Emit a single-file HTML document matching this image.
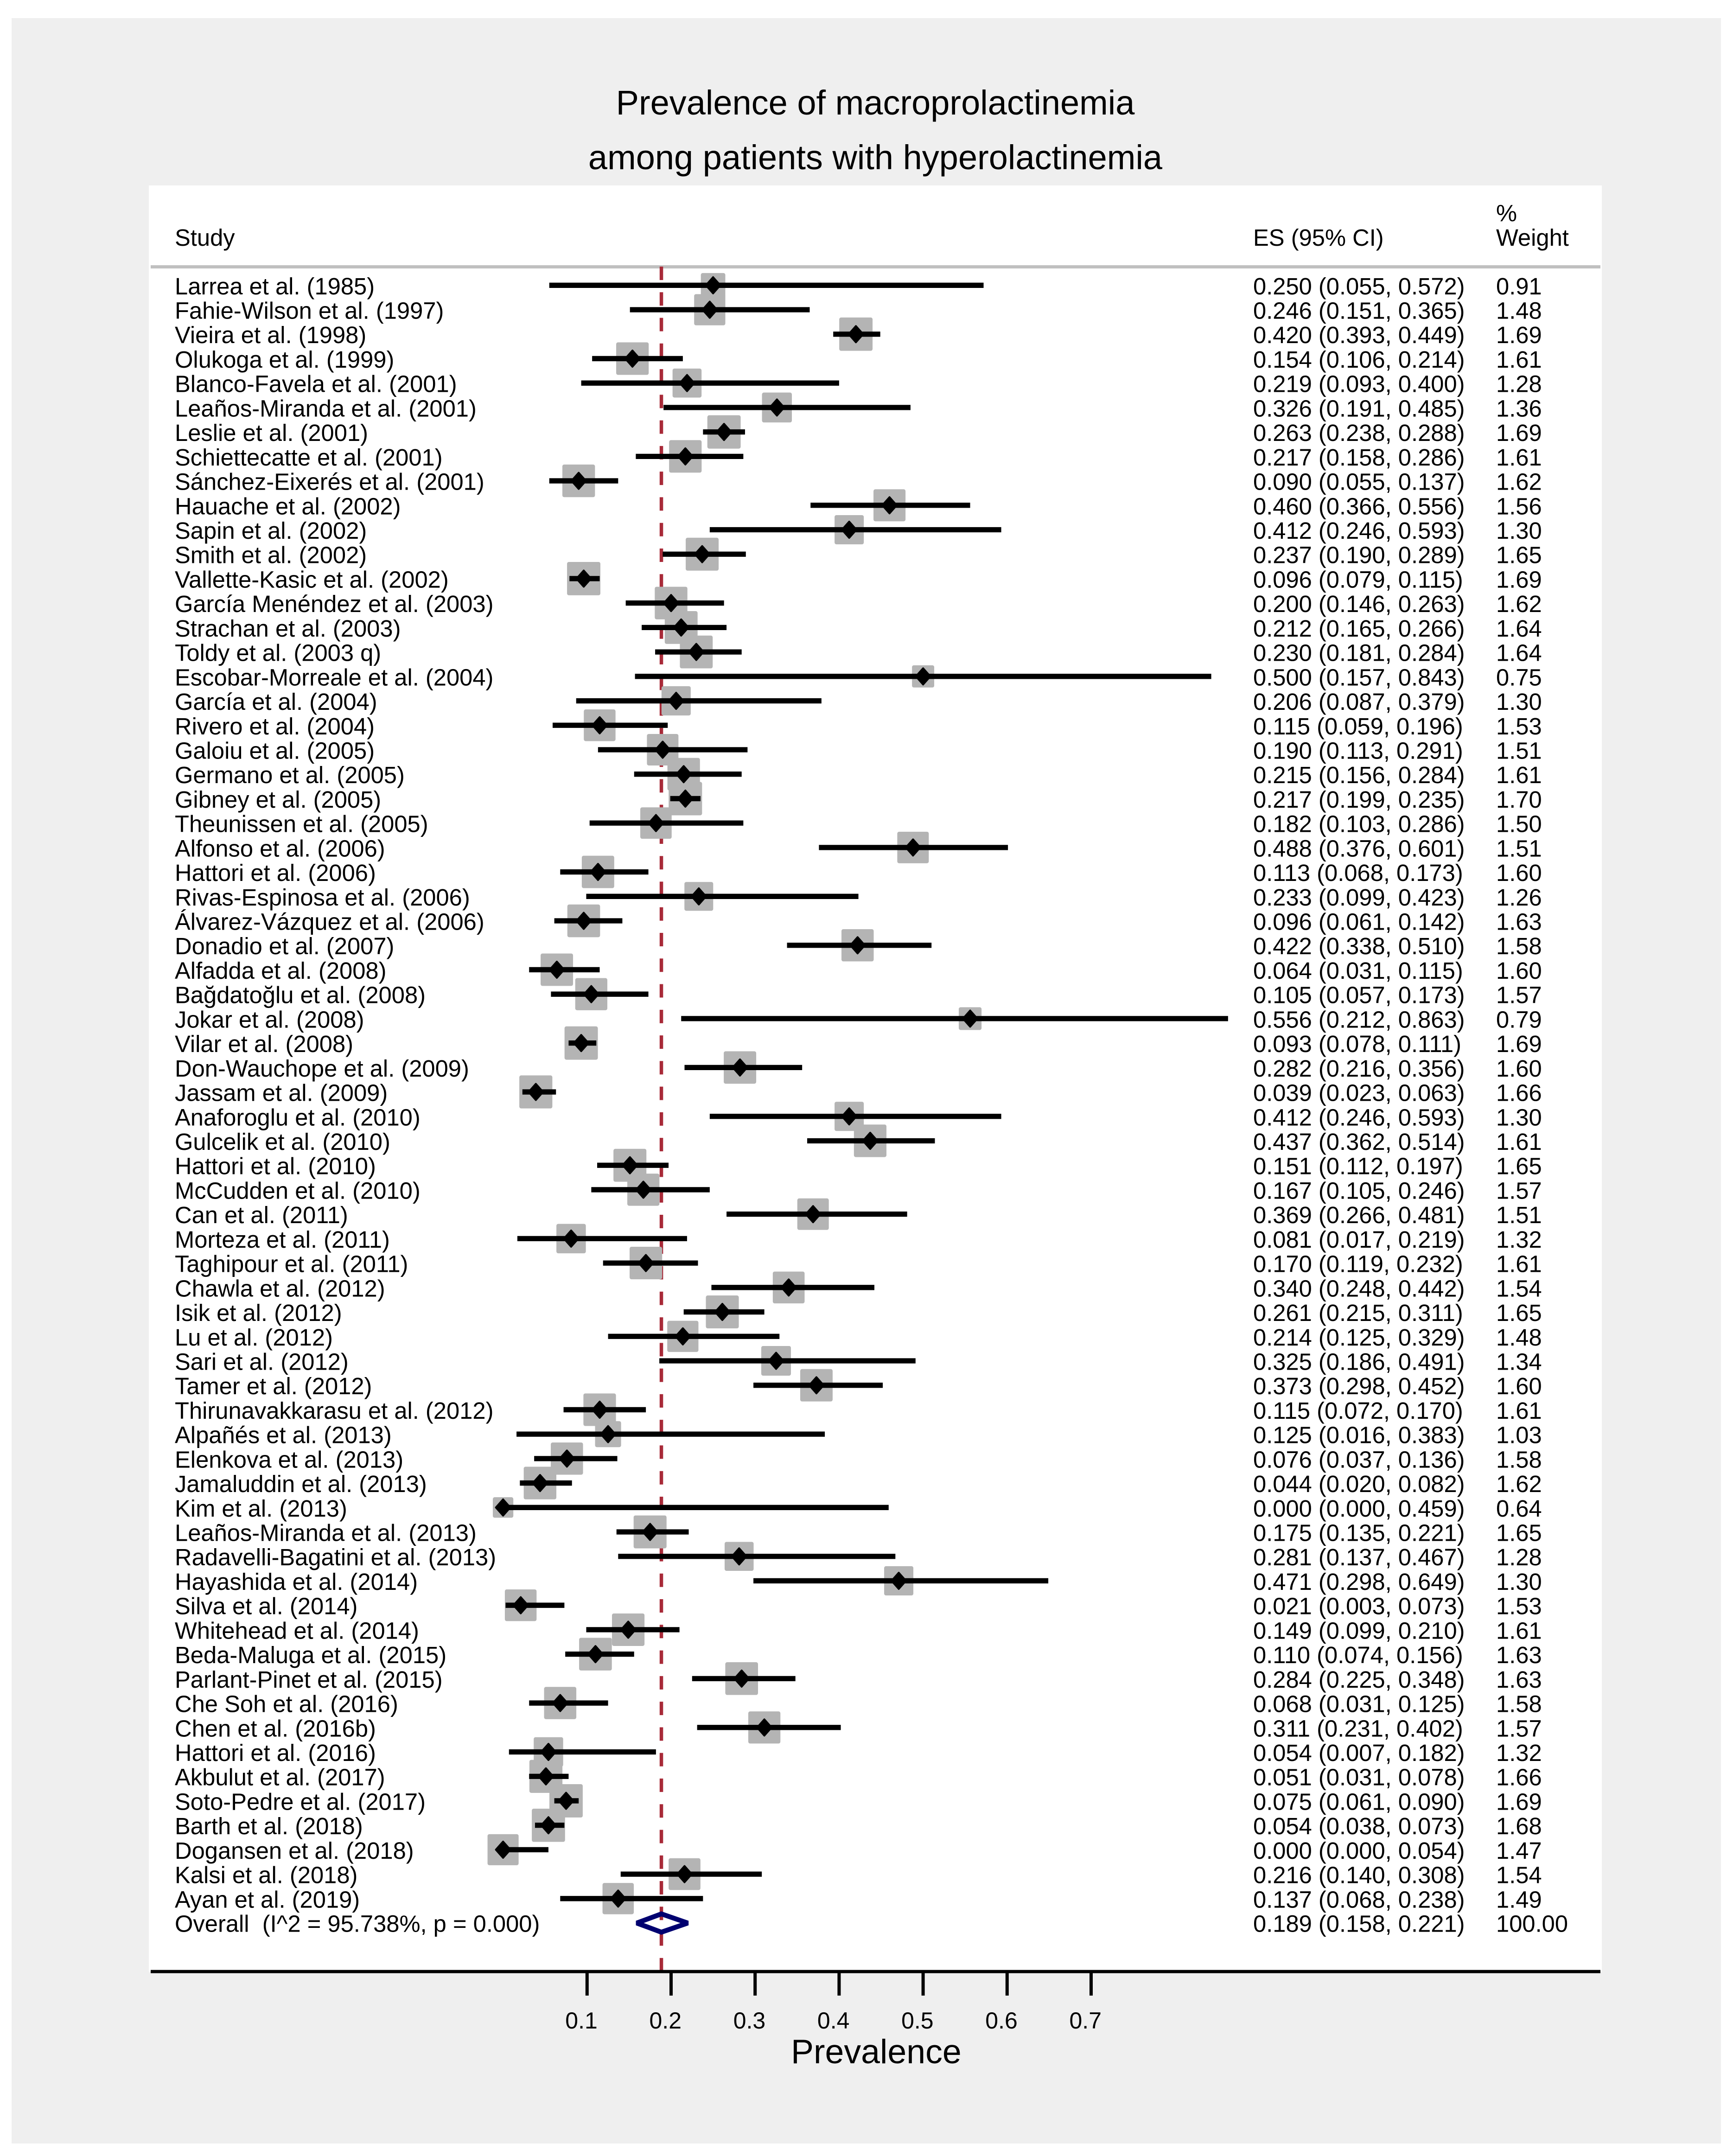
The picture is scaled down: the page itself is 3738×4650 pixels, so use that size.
<!DOCTYPE html>
<html lang="en">
<head>
<meta charset="utf-8">
<title>Prevalence of macroprolactinemia forest plot</title>
<style>
html,body{margin:0;padding:0;background:#fff;}
svg{display:block;}
text{font-family:"Liberation Sans",sans-serif;fill:#000;white-space:pre;}
</style>
</head>
<body>
<svg id="chart" xmlns="http://www.w3.org/2000/svg" width="3738" height="4650" viewBox="0 0 3738 4650">
  <rect x="25" y="39" width="3687" height="4584" fill="#efefef"/>
  <rect x="321" y="400" width="3134" height="3852" fill="#ffffff"/>
  <text x="1888" y="247" font-size="74" text-anchor="middle">Prevalence of macroprolactinemia</text>
  <text x="1888" y="365" font-size="74" text-anchor="middle">among patients with hyperolactinemia</text>
  <text x="377" y="530" font-size="50.7">Study</text>
  <text x="2703" y="530" font-size="50.7">ES (95% CI)</text>
  <text x="3227" y="477" font-size="50.7">%</text>
  <text x="3227" y="530" font-size="50.7">Weight</text>
  <rect x="325" y="572" width="3127" height="7" fill="#c0c0c0"/>
  <g id="refLayer"></g>
  <g id="boxLayer"></g>
  <g id="ciLayer"></g>
  <g id="markerLayer"></g>
  <g id="textLayer"></g>
  <g id="overallLayer"></g>
  <rect x="325" y="4248.7" width="3127" height="7" fill="#000"/>
  <g id="axisLayer"></g>
  <text x="1706" y="4450" font-size="73.5">Prevalence</text>
</svg>
<script>
const studies = ["Larrea et al. (1985)","Fahie-Wilson et al. (1997)","Vieira et al. (1998)","Olukoga et al. (1999)","Blanco-Favela et al. (2001)","Leaños-Miranda et al. (2001)","Leslie et al. (2001)","Schiettecatte et al. (2001)","Sánchez-Eixerés et al. (2001)","Hauache et al. (2002)","Sapin et al. (2002)","Smith et al. (2002)","Vallette-Kasic et al. (2002)","García Menéndez et al. (2003)","Strachan et al. (2003)","Toldy et al. (2003 q)","Escobar-Morreale et al. (2004)","García et al. (2004)","Rivero et al. (2004)","Galoiu et al. (2005)","Germano et al. (2005)","Gibney et al. (2005)","Theunissen et al. (2005)","Alfonso et al. (2006)","Hattori et al. (2006)","Rivas-Espinosa et al. (2006)","Álvarez-Vázquez et al. (2006)","Donadio et al. (2007)","Alfadda et al. (2008)","Bağdatoğlu et al. (2008)","Jokar et al. (2008)","Vilar et al. (2008)","Don-Wauchope et al. (2009)","Jassam et al. (2009)","Anaforoglu et al. (2010)","Gulcelik et al. (2010)","Hattori et al. (2010)","McCudden et al. (2010)","Can et al. (2011)","Morteza et al. (2011)","Taghipour et al. (2011)","Chawla et al. (2012)","Isik et al. (2012)","Lu et al. (2012)","Sari et al. (2012)","Tamer et al. (2012)","Thirunavakkarasu et al. (2012)","Alpañés et al. (2013)","Elenkova et al. (2013)","Jamaluddin et al. (2013)","Kim et al. (2013)","Leaños-Miranda et al. (2013)","Radavelli-Bagatini et al. (2013)","Hayashida et al. (2014)","Silva et al. (2014)","Whitehead et al. (2014)","Beda-Maluga et al. (2015)","Parlant-Pinet et al. (2015)","Che Soh et al. (2016)","Chen et al. (2016b)","Hattori et al. (2016)","Akbulut et al. (2017)","Soto-Pedre et al. (2017)","Barth et al. (2018)","Dogansen et al. (2018)","Kalsi et al. (2018)","Ayan et al. (2019)"];
const es = [0.250,0.246,0.420,0.154,0.219,0.326,0.263,0.217,0.090,0.460,0.412,0.237,0.096,0.200,0.212,0.230,0.500,0.206,0.115,0.190,0.215,0.217,0.182,0.488,0.113,0.233,0.096,0.422,0.064,0.105,0.556,0.093,0.282,0.039,0.412,0.437,0.151,0.167,0.369,0.081,0.170,0.340,0.261,0.214,0.325,0.373,0.115,0.125,0.076,0.044,0.000,0.175,0.281,0.471,0.021,0.149,0.110,0.284,0.068,0.311,0.054,0.051,0.075,0.054,0.000,0.216,0.137];
const ciLow = [0.055,0.151,0.393,0.106,0.093,0.191,0.238,0.158,0.055,0.366,0.246,0.190,0.079,0.146,0.165,0.181,0.157,0.087,0.059,0.113,0.156,0.199,0.103,0.376,0.068,0.099,0.061,0.338,0.031,0.057,0.212,0.078,0.216,0.023,0.246,0.362,0.112,0.105,0.266,0.017,0.119,0.248,0.215,0.125,0.186,0.298,0.072,0.016,0.037,0.020,0.000,0.135,0.137,0.298,0.003,0.099,0.074,0.225,0.031,0.231,0.007,0.031,0.061,0.038,0.000,0.140,0.068];
const ciHigh = [0.572,0.365,0.449,0.214,0.400,0.485,0.288,0.286,0.137,0.556,0.593,0.289,0.115,0.263,0.266,0.284,0.843,0.379,0.196,0.291,0.284,0.235,0.286,0.601,0.173,0.423,0.142,0.510,0.115,0.173,0.863,0.111,0.356,0.063,0.593,0.514,0.197,0.246,0.481,0.219,0.232,0.442,0.311,0.329,0.491,0.452,0.170,0.383,0.136,0.082,0.459,0.221,0.467,0.649,0.073,0.210,0.156,0.348,0.125,0.402,0.182,0.078,0.090,0.073,0.054,0.308,0.238];
const weights = [0.91,1.48,1.69,1.61,1.28,1.36,1.69,1.61,1.62,1.56,1.30,1.65,1.69,1.62,1.64,1.64,0.75,1.30,1.53,1.51,1.61,1.70,1.50,1.51,1.60,1.26,1.63,1.58,1.60,1.57,0.79,1.69,1.60,1.66,1.30,1.61,1.65,1.57,1.51,1.32,1.61,1.54,1.65,1.48,1.34,1.60,1.61,1.03,1.58,1.62,0.64,1.65,1.28,1.30,1.53,1.61,1.63,1.63,1.58,1.57,1.32,1.66,1.69,1.68,1.47,1.54,1.49];
const overallLabel = "Overall  (I^2 = 95.738%, p = 0.000)";
const overallEs = 0.189;
const overallLow = 0.158;
const overallHigh = 0.221;
const overallWeight = 100.00;
const xTicks = [0.1,0.2,0.3,0.4,0.5,0.6,0.7];

const SVG_NS = "http://www.w3.org/2000/svg";
function xScale(v){ return 1266.3 + (v - 0.1) * 1812; }
function rowY(i){ return 615.3 + 52.72 * i; }
function make(tag, attrs, parent){
  const el = document.createElementNS(SVG_NS, tag);
  for (const k in attrs) el.setAttribute(k, attrs[k]);
  parent.appendChild(el);
  return el;
}
const refLayer = document.getElementById("refLayer");
const boxLayer = document.getElementById("boxLayer");
const ciLayer = document.getElementById("ciLayer");
const markerLayer = document.getElementById("markerLayer");
const textLayer = document.getElementById("textLayer");
const overallLayer = document.getElementById("overallLayer");
const axisLayer = document.getElementById("axisLayer");

const refLine = make("line", {x1:xScale(overallEs) - 1, x2:xScale(overallEs) - 1, y1:575, y2:4252, stroke:"#a82a38", "stroke-width":7.5, "stroke-dasharray":"29 26.27"}, refLayer);



studies.forEach(function(name, i){
  const y = rowY(i);
  const cx = xScale(es[i]);
  const side = 55.3 * Math.sqrt(weights[i]);
  const box = make("rect", {x:cx - side/2, y:y - side/2, width:side, height:side, rx:4, fill:"#b4b4b4"}, boxLayer);
  
  

  const ci = make("line", {x1:xScale(ciLow[i]), x2:xScale(ciHigh[i]), y1:y, y2:y, stroke:"#000", "stroke-width":11.3}, ciLayer);
  
  

  const pts = [[cx-15.5,y],[cx,y-17.5],[cx+15.5,y],[cx,y+17.5]].map(function(p){return p.join(",");}).join(" ");
  const mark = make("polygon", {points:pts, fill:"#000", stroke:"#000", "stroke-width":4, "stroke-linejoin":"round"}, markerLayer);
  
  

  const base = y + 19.5;
  const t1 = make("text", {x:377, y:base, "font-size":50.7}, textLayer);
  t1.textContent = name;
  
  

  const t2 = make("text", {x:2703, y:base, "font-size":50.7}, textLayer);
  t2.textContent = es[i].toFixed(3) + " (" + ciLow[i].toFixed(3) + ", " + ciHigh[i].toFixed(3) + ")";
  
  

  const t3 = make("text", {x:3227, y:base, "font-size":50.7}, textLayer);
  t3.textContent = weights[i].toFixed(2);
  
  
});

const oy = rowY(studies.length);
const lx = xScale(overallLow) + 2;
const rx = xScale(overallHigh) - 2;
const mx = xScale(overallEs) - 1;
const oDiamond = make("polygon", {points:lx+","+oy+" "+mx+","+(oy-19.7)+" "+rx+","+oy+" "+mx+","+(oy+19.7), fill:"none", stroke:"#000070", "stroke-width":10.5, "stroke-linejoin":"miter", "stroke-miterlimit":2}, overallLayer);



const oBase = oy + 19;
const oT1 = make("text", {x:377, y:oBase, "font-size":50.7}, textLayer);
oT1.textContent = overallLabel;



const oT2 = make("text", {x:2703, y:oBase, "font-size":50.7}, textLayer);
oT2.textContent = overallEs.toFixed(3) + " (" + overallLow.toFixed(3) + ", " + overallHigh.toFixed(3) + ")";



const oT3 = make("text", {x:3227, y:oBase, "font-size":50.7}, textLayer);
oT3.textContent = overallWeight.toFixed(2);



xTicks.forEach(function(v){
  const px = xScale(v);
  const tick = make("line", {x1:px, x2:px, y1:4252, y2:4304, stroke:"#000", "stroke-width":7}, axisLayer);
  
  

  const lab = make("text", {x:px - 47, y:4375, "font-size":50}, axisLayer);
  lab.textContent = v.toFixed(1);
  
  
});
</script>
</body>
</html>
